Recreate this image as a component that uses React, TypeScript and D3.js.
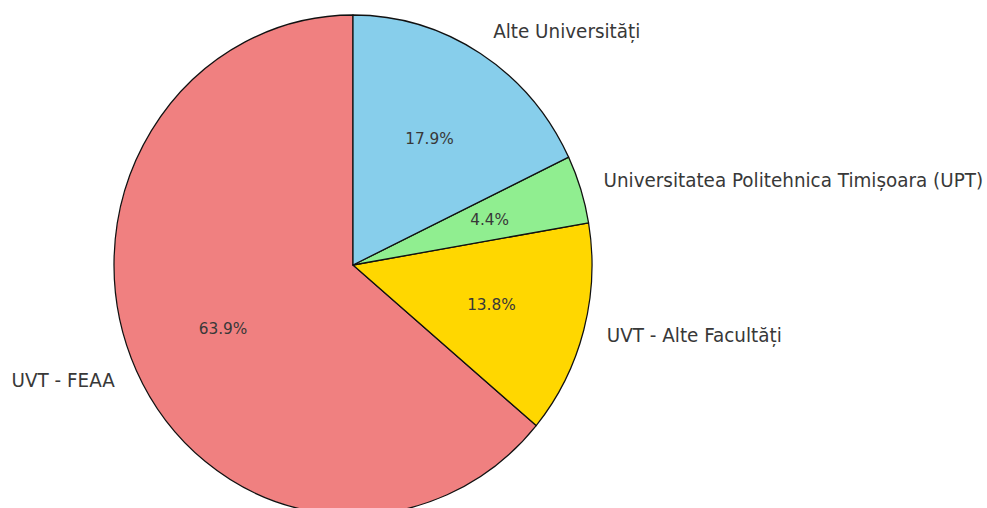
import React from 'react';
import * as d3 from 'd3';

// matplotlib order, counterclockwise from the top
const categories = ['UVT - FEAA', 'UVT - Alte Facultăți', 'Universitatea Politehnica Timișoara (UPT)', 'Alte Universități'];
const shares = [63.9, 13.8, 4.4, 17.9];
const colors = ['#F08080', '#FFD700', '#90EE90', '#87CEEB'];

const W = 987;
const H = 508;
const R = 250;

export default function App() {
  const data = categories.map((name, i) => ({ name, value: shares[i], color: colors[i] }));

  const pie = d3.pie<any>().sort(null).value(d => d.value).startAngle(0).endAngle(-2 * Math.PI);
  const arcs = pie(data);
  const arc = d3.arc<any>().innerRadius(0).outerRadius(R);

  return (
    <svg width={W} height={H} style={{ position: 'absolute', left: 0, top: 0, background: '#fff' }}
      fontFamily="'DejaVu Sans', sans-serif">
      <g transform={`translate(353,265) scale(0.956,1)`}>
        {arcs.map((a, i) => (
          <path key={i} d={arc(a) as string} fill={a.data.color} stroke="#111" strokeWidth={1.3} strokeLinejoin="round" />
        ))}
        {arcs.map((a, i) => {
          const mid = (a.startAngle + a.endAngle) / 2;
          const lx = 1.1 * R * Math.sin(mid);
          const ly = -1.1 * R * Math.cos(mid);
          const px = 0.6 * R * Math.sin(mid);
          const py = -0.6 * R * Math.cos(mid);
          return (
            <g key={'t' + i}>
              <text x={lx} y={ly - 1} dominantBaseline="central" textAnchor={lx > 0 ? 'start' : 'end'}
                fontSize={19.2} fill="#383838">{a.data.name}</text>
              <text x={px} y={py} dominantBaseline="central" textAnchor="middle"
                fontSize={16} fill="#383838">{a.data.value.toFixed(1)}%</text>
            </g>
          );
        })}
      </g>
    </svg>
  );
}
